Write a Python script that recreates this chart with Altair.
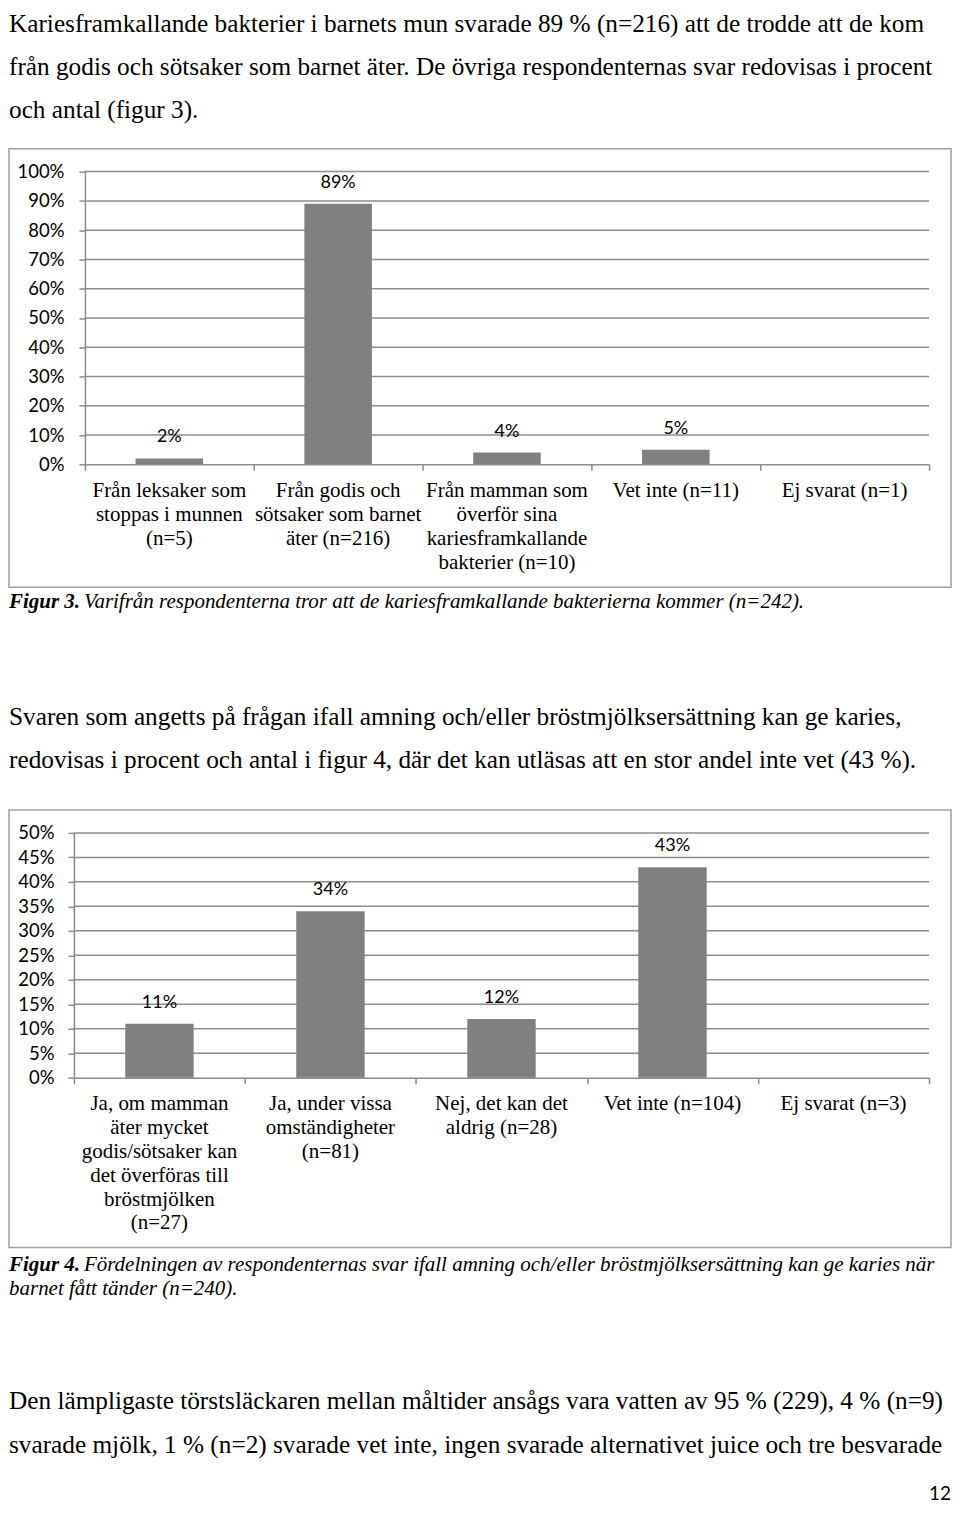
import altair as alt
import pandas as pd

# ---------------- data / text ----------------
intro_lines = [
    "Kariesframkallande bakterier i barnets mun svarade 89 % (n=216) att de trodde att de kom",
    "från godis och sötsaker som barnet äter. De övriga respondenternas svar redovisas i procent",
    "och antal (figur 3).",
]
fig3_categories = [
    "Från leksaker som\nstoppas i munnen\n(n=5)",
    "Från godis och\nsötsaker som barnet\näter (n=216)",
    "Från mamman som\növerför sina\nkariesframkallande\nbakterier (n=10)",
    "Vet inte (n=11)",
    "Ej svarat (n=1)",
]
fig3_values = [0.02, 0.89, 0.04, 0.05, None]
fig3_ticks = [0.0, 0.1, 0.2, 0.3, 0.4, 0.5, 0.6, 0.7, 0.8, 0.9, 1.0]
fig3_label = "Figur 3."
fig3_caption = "Varifrån respondenterna tror att de kariesframkallande bakterierna kommer (n=242)."

mid_lines = [
    "Svaren som angetts på frågan ifall amning och/eller bröstmjölksersättning kan ge karies,",
    "redovisas i procent och antal i figur 4, där det kan utläsas att en stor andel inte vet (43 %).",
]
fig4_categories = [
    "Ja, om mamman\näter mycket\ngodis/sötsaker kan\ndet överföras till\nbröstmjölken\n(n=27)",
    "Ja, under vissa\nomständigheter\n(n=81)",
    "Nej, det kan det\naldrig (n=28)",
    "Vet inte (n=104)",
    "Ej svarat (n=3)",
]
fig4_values = [0.11, 0.34, 0.12, 0.43, None]
fig4_ticks = [0.0, 0.05, 0.10, 0.15, 0.20, 0.25, 0.30, 0.35, 0.40, 0.45, 0.50]
fig4_label = "Figur 4."
fig4_caption_1 = "Fördelningen av respondenternas svar ifall amning och/eller bröstmjölksersättning kan ge karies när"
fig4_caption_2 = "barnet fått tänder (n=240)."

end_lines = [
    "Den lämpligaste törstsläckaren mellan måltider ansågs vara vatten av 95 % (229), 4 % (n=9)",
    "svarade mjölk, 1 % (n=2) svarade vet inte, ingen svarade alternativet juice och tre besvarade",
]
page_number = "12"

# ---------------- styles ----------------
W = 943
SERIF = "Liberation Serif"
SANS = "Lato"
GRAY = "#8c8c8c"
BAR = "#808080"
FRAME = "#a0a0a0"
BODY_SIZE = 25.3
CAP_SIZE = 21


def text_line(line, x, y, size=BODY_SIZE, weight="normal", style="normal",
              align="left", font=SERIF):
    return alt.Chart(pd.DataFrame({"t": [line]})).mark_text(
        align=align, baseline="alphabetic", font=font, fontSize=size,
        fontWeight=weight, fontStyle=style, color="#000"
    ).encode(text="t:N", x=alt.value(x), y=alt.value(y))


def paragraph(lines, x, y, step=43.5, **kw):
    return [text_line(line, x, y + k * step, **kw) for k, line in enumerate(lines)]


def text_section(layers, height):
    return alt.layer(*layers).properties(width=W, height=height)


def bar_chart(categories, values, ticks, height, pl, pr, pt, pb, label_y, label_pad):
    n = len(categories)
    df = pd.DataFrame({"cat": categories, "value": values, "i": list(range(n))})
    xscale = alt.Scale(domain=[0, n], range=[pl, pr], nice=False, zero=False)
    yscale = alt.Scale(domain=[0, ticks[-1]], range=[pb, pt], nice=False)
    yaxis = alt.Axis(values=ticks, format=".0%", offset=-pl, tickSize=6,
                     labelPadding=label_pad, labelFont=SANS, labelFontSize=18.5,
                     labelColor="#000", domainColor=GRAY, tickColor=GRAY,
                     domainWidth=1.5, tickWidth=1.5, grid=False, title=None,
                     labelOverlap=False)
    xaxis = alt.Axis(values=list(range(n + 1)), labels=False, tickSize=6,
                     offset=-(height - pb), domainColor=GRAY, tickColor=GRAY,
                     domainWidth=1.5, tickWidth=1.5, grid=False, title=None)
    base = alt.Chart(df).transform_calculate(
        x0="datum.i + 0.3", x1="datum.i + 0.7", xc="datum.i + 0.5"
    )
    grid = alt.Chart(pd.DataFrame({"g": ticks[1:]})).mark_rule(
        color=GRAY, strokeWidth=1.5
    ).encode(
        y=alt.Y("g:Q", scale=yscale, axis=yaxis),
        x=alt.datum(0),
        x2=alt.datum(n),
    )
    bars = base.mark_bar(color=BAR).encode(
        x=alt.X("x0:Q", scale=xscale, axis=xaxis),
        x2="x1:Q",
        y=alt.Y("value:Q", scale=yscale),
        y2=alt.datum(0),
    )
    labels = base.transform_filter("isValid(datum.value)").mark_text(
        font=SANS, fontSize=18, dy=-21, baseline="middle", color="#000"
    ).encode(
        x="xc:Q", y="value:Q", text=alt.Text("value:Q", format=".0%")
    )
    cats = base.mark_text(
        font=SERIF, fontSize=CAP_SIZE, lineBreak="\n", lineHeight=24,
        baseline="alphabetic", align="center", color="#000"
    ).encode(x="xc:Q", y=alt.value(label_y), text="cat:N")
    return alt.layer(grid, bars, labels, cats).properties(
        width=W, height=height,
        view=alt.ViewBackground(stroke=FRAME, strokeWidth=1.5),
    )


s1 = text_section(paragraph(intro_lines, 0, 23, step=43), 140)
c1 = bar_chart(fig3_categories, fig3_values, fig3_ticks, 439, 76, 921, 23, 316, 349, 15)
s3 = text_section(
    [
        text_line(fig3_label, 0, 21, size=CAP_SIZE, weight="bold", style="italic"),
        text_line(fig3_caption, 75, 21, size=CAP_SIZE, style="italic"),
    ]
    + paragraph(mid_lines, 0, 138, step=43),
    223,
)
c2 = bar_chart(fig4_categories, fig4_values, fig4_ticks, 438, 65, 921, 23, 268, 300, 14)
s5 = text_section(
    [
        text_line(fig4_label, 0, 24, size=CAP_SIZE, weight="bold", style="italic"),
        text_line(fig4_caption_1, 75, 24, size=CAP_SIZE, style="italic"),
        text_line(fig4_caption_2, 0, 48, size=CAP_SIZE, style="italic"),
    ]
    + paragraph(end_lines, 0, 162, step=44)
    + [text_line(page_number, W, 253, size=19, align="right", font=SANS)],
    254,
)

chart = alt.vconcat(s1, c1, s3, c2, s5, spacing=0, bounds="flush").properties(
    padding=0
).configure_view(strokeWidth=0)

chart.save("out.html", embed_options={"renderer": "svg", "actions": False})
